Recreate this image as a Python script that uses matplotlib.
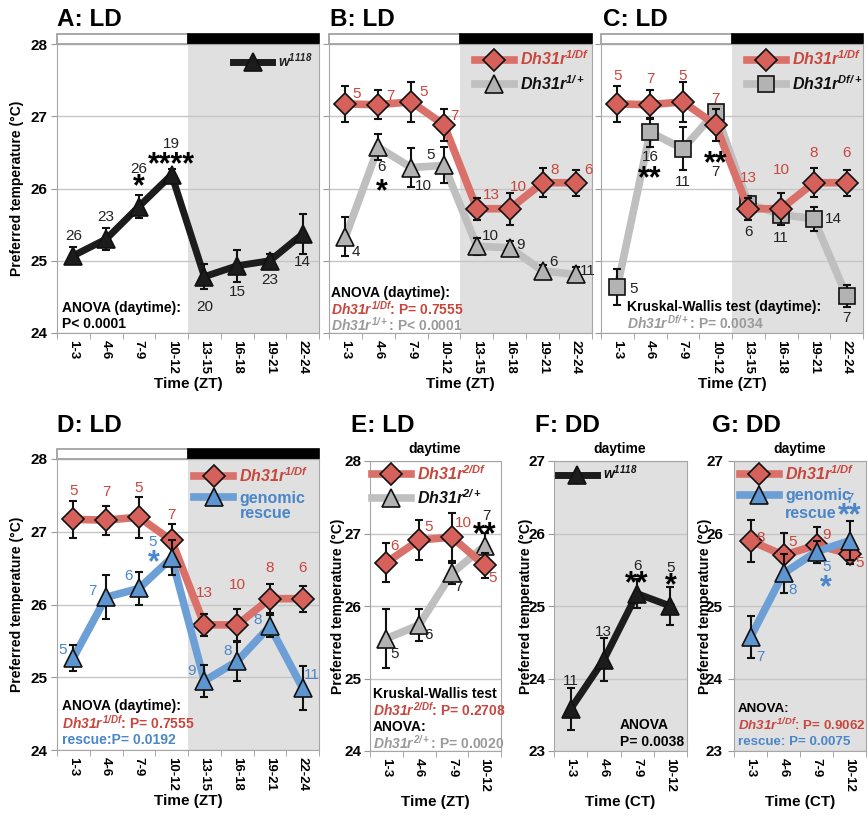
import numpy as np
import matplotlib.pyplot as plt
from matplotlib.lines import Line2D
from matplotlib.patches import Rectangle

plt.rcParams['font.family'] = ['Liberation Sans', 'DejaVu Sans']
plt.rcParams['mathtext.fontset'] = 'custom'
plt.rcParams['mathtext.rm'] = 'Liberation Sans:italic:bold'
plt.rcParams['mathtext.it'] = 'Liberation Sans:italic:bold'
plt.rcParams['mathtext.bf'] = 'Liberation Sans:italic:bold'

# ---- data ----
zt_bins = ['1-3', '4-6', '7-9', '10-12', '13-15', '16-18', '19-21', '22-24']
day_bins = ['1-3', '4-6', '7-9', '10-12']

# A: w1118 LD
w_ld = [25.07, 25.3, 25.75, 26.19, 24.78, 24.93, 25.0, 25.37]
w_ld_err = [0.12, 0.15, 0.16, 0.08, 0.17, 0.22, 0.1, 0.28]
w_ld_n = [26, 23, 26, 19, 20, 15, 23, 14]

# Dh31r1/Df LD (B, C, D)
r1df = [27.17, 27.16, 27.2, 26.88, 25.72, 25.72, 26.08, 26.08]
r1df_err = [0.25, 0.2, 0.28, 0.22, 0.15, 0.22, 0.2, 0.18]
r1df_n = [5, 7, 5, 7, 13, 10, 8, 6]

# B: Dh31r1/+
r1p = [25.33, 26.57, 26.29, 26.32, 25.2, 25.18, 24.86, 24.81]
r1p_err = [0.27, 0.18, 0.27, 0.25, 0.12, 0.1, 0.08, 0.1]
r1p_n = [4, 6, 10, 5, 10, 9, 6, 11]

# C: Dh31rDf/+
dfp = [24.64, 26.78, 26.55, 27.06, 25.79, 25.64, 25.58, 24.51]
dfp_err = [0.25, 0.2, 0.3, 0.1, 0.1, 0.1, 0.17, 0.15]
dfp_n = [5, 16, 11, 7, 6, 11, 14, 7]

# D: genomic rescue LD
resc = [25.27, 26.1, 26.22, 26.64, 24.95, 25.22, 25.7, 24.85]
resc_err = [0.18, 0.3, 0.23, 0.24, 0.22, 0.27, 0.15, 0.3]
resc_n = [5, 7, 6, 5, 9, 8, 8, 11]

# E: Dh31r2/Df and Dh31r2/+ (daytime)
r2df = [26.6, 26.91, 26.95, 26.56]
r2df_err = [0.27, 0.27, 0.33, 0.17]
r2df_n = [6, 5, 10, 5]
r2p = [25.55, 25.74, 26.45, 26.83]
r2p_err = [0.41, 0.22, 0.15, 0.18]
r2p_n = [5, 6, 7, 7]

# F: w1118 DD
w_dd = [23.58, 24.26, 25.17, 25.0]
w_dd_err = [0.29, 0.3, 0.2, 0.26]
w_dd_n = [11, 13, 6, 5]

# G: DD
r1df_dd = [25.9, 25.7, 25.84, 25.72]
r1df_dd_err = [0.29, 0.31, 0.25, 0.14]
r1df_dd_n = [8, 5, 9, 5]
resc_dd = [24.57, 25.45, 25.75, 25.9]
resc_dd_err = [0.29, 0.27, 0.15, 0.27]
resc_dd_n = [7, 8, 5, 7]

# ---- colours ----
RED_L, RED_F, RED_T = '#d9716a', '#d6615a', '#c9463d'
GRY_L, GRY_F, GRY_T = '#bfbfbf', '#b3b3b3', '#9a9a9a'
BLU_L, BLU_F, BLU_T = '#6b9fd5', '#5d95d0', '#4a86c8'
BLK = '#1c1c1c'
NIGHT = '#e0e0e0'

W, H = 868, 816
fig = plt.figure(figsize=(W / 100, H / 100), dpi=100)


def px_axes(l, t, r, b):
    return fig.add_axes([l / W, 1 - b / H, (r - l) / W, (b - t) / H])


def ftext(x, y, s, **kw):
    kw.setdefault('va', 'center')
    kw.setdefault('fontweight', 'bold')
    fig.text(x / W, 1 - y / H, s, **kw)


def setup(ax, cats, ylim, night=None, allgray=False, ylabels=True, ypad=3,
          xlabel='Time (ZT)', ylab_x=None):
    n = len(cats)
    ax.set_xlim(-0.5, n - 0.5)
    ax.set_ylim(*ylim)
    ax.set_xticks(np.arange(n))
    ax.set_xticklabels(cats, rotation=-90, fontsize=9.5, fontweight='bold')
    ax.tick_params(axis='x', which='major', length=0, pad=5)
    ax.set_xticks(np.arange(n + 1) - 0.5, minor=True)
    ax.tick_params(axis='x', which='minor', length=4, color='#999999')
    ax.set_yticks(range(ylim[0], ylim[1] + 1))
    ax.tick_params(axis='y', length=4, color='#999999', pad=ypad,
                   labelsize=11)
    if ylabels:
        for t in ax.get_yticklabels():
            t.set_fontweight('bold')
    else:
        ax.set_yticklabels([])
    ax.yaxis.grid(True, color='#c6c6c6', lw=1)
    ax.set_axisbelow(True)
    for s in ax.spines.values():
        s.set_color('#a6a6a6')
    if allgray:
        ax.set_facecolor(NIGHT)
    if night is not None:
        ax.axvspan(night, n - 0.5, color=NIGHT, zorder=0, lw=0)
    ax.set_xlabel(xlabel, fontsize=11, fontweight='bold', labelpad=2)
    if ylab_x is not None:
        ax.set_ylabel('Preferred temperature (°C)', fontsize=10,
                      fontweight='bold')
        ax.yaxis.set_label_coords(ylab_x, 0.5)


def ld_bar(ax, n_light=4, n=8):
    tr = ax.get_xaxis_transform()
    ax.add_patch(Rectangle((-0.5, 1.0), n_light, 0.034, transform=tr,
                           facecolor='white', edgecolor='#9a9a9a', lw=1.2,
                           clip_on=False))
    ax.add_patch(Rectangle((n_light - 0.5, 1.0), n - n_light, 0.034,
                           transform=tr, facecolor='black', edgecolor='black',
                           lw=1.2, clip_on=False))


def series(ax, y, err, lc, fc, marker, ms, z, lw=5.5):
    x = np.arange(len(y))
    ax.plot(x, y, color=lc, lw=lw, zorder=z, solid_joinstyle='round')
    ax.errorbar(x, y, yerr=err, fmt='none', ecolor='#111111', elinewidth=1.5,
                capsize=3.2, capthick=1.5, zorder=z + 0.1)
    ax.plot(x, y, ls='none', marker=marker, ms=ms, mfc=fc, mec='#111111',
            mew=1.2, zorder=z + 0.2)
    return Line2D([], [], color=lc, lw=lw, marker=marker, ms=ms, mfc=fc,
                  mec='#111111', mew=1.2)


def nlabels(ax, y, ns, offs, color, fs=11):
    for i, (v, n, (dx, dy)) in enumerate(zip(y, ns, offs)):
        ax.annotate(str(n), (i, v), xytext=(dx, dy), textcoords='offset pixels',
                    ha='center', va='center', color=color, fontsize=fs,
                    zorder=10)


def stars(ax, i, v, s, dx, dy, color='black', fs=22):
    ax.annotate(s, (i, v), xytext=(dx, dy - 6), textcoords='offset pixels',
                ha='center', va='center', color=color, fontsize=fs,
                fontweight='bold', zorder=10)


def legend(ax, handles, labels, x0, ytop, colors, fs=11.5, spacing=0.35,
           upright=()):
    hl = 39 / (fs * 1.389)
    leg = ax.legend(handles, labels, loc='upper left', bbox_to_anchor=(x0, ytop),
                    frameon=False, handlelength=hl, handletextpad=0.4,
                    borderpad=0, borderaxespad=0, labelspacing=spacing,
                    prop={'size': fs, 'weight': 'bold', 'style': 'italic'})
    for t, c in zip(leg.get_texts(), colors):
        t.set_color(c)
    for k in upright:
        leg.get_texts()[k].set_fontstyle('normal')
    leg.set_zorder(20)
    return leg


# ---------- A ----------
axA = px_axes(57, 44, 319, 333)
setup(axA, zt_bins, (24, 28), night=3.5, ylab_x=-0.125)
ld_bar(axA)
h = series(axA, w_ld, w_ld_err, BLK, BLK, '^', 13, 3, lw=5)
nlabels(axA, w_ld, w_ld_n, [(0, 20), (0, 22), (0, 38), (0, 31),
                            (0, -30), (0, -26), (0, -19), (0, -28)], '#222222')
stars(axA, 2, w_ld[2], '*', 0, 25)
stars(axA, 3, w_ld[3], '****', 0, 16)
legend(axA, [h], [r'w$^{1118}$'], 0.672, 0.975, ['#222222'], fs=10)
ftext(57, 19, 'A: LD', fontsize=17.5)
ftext(62, 308, 'ANOVA (daytime):', fontsize=10, ha='left')
ftext(62, 324, 'P< 0.0001', fontsize=10, ha='left')

# ---------- B ----------
axB = px_axes(329, 44, 592, 333)
setup(axB, zt_bins, (24, 28), night=3.5, ylabels=False)
ld_bar(axB)
hg = series(axB, r1p, r1p_err, GRY_L, GRY_F, '^', 13, 3)
hr = series(axB, r1df, r1df_err, RED_L, RED_F, 'D', 11.5, 4)
nlabels(axB, r1df, r1df_n, [(11, 10), (12, 9), (12, 10), (10, 9),
                            (14, 14), (9, 22), (12, 13), (13, 13)], RED_T)
nlabels(axB, r1p, r1p_n, [(10, -15), (3, -20), (12, -18), (-13, 10),
                          (13, 10), (11, 3), (11, 9), (12, 3)], '#222222')
stars(axB, 1, r1p[1], '*', 3, -39)
legend(axB, [hr, hg], [r'Dh31r$^{1/Df}$', r'Dh31r$^{1/+}$'], 0.555, 0.98,
       [RED_T, '#111111'])
ftext(330, 19, 'B: LD', fontsize=17.5)
ftext(331, 293, 'ANOVA (daytime):', fontsize=10, ha='left')
ftext(331, 309, r'$Dh31r^{1/Df}$: P= 0.7555', fontsize=10, ha='left',
      color=RED_T)
ftext(331, 325, r'$Dh31r^{1/+}$: P< 0.0001', fontsize=10, ha='left',
      color=GRY_T)

# ---------- C ----------
axC = px_axes(601, 44, 863, 333)
setup(axC, zt_bins, (24, 28), night=3.5, ylabels=False)
ld_bar(axC)
hg = series(axC, dfp, dfp_err, GRY_L, GRY_F, 's', 11.5, 3)
hr = series(axC, r1df, r1df_err, RED_L, RED_F, 'D', 11.5, 4)
nlabels(axC, r1df, r1df_n, [(0, 28), (0, 26), (0, 26), (0, 26),
                            (0, 31), (0, 39), (0, 30), (0, 30)], RED_T)
nlabels(axC, dfp, dfp_n, [(16, -2), (0, -25), (0, -33), (0, -60),
                          (0, -28), (0, -23), (20, 0), (0, -22)], '#222222')
stars(axC, 1, dfp[1], '**', 0, -41)
stars(axC, 3, dfp[3], '**', 0, -46)
legend(axC, [hr, hg], [r'Dh31r$^{1/Df}$', r'Dh31r$^{Df/+}$'], 0.557, 0.98,
       [RED_T, '#111111'])
ftext(603, 19, 'C: LD', fontsize=17.5)
ftext(627, 307, 'Kruskal-Wallis test (daytime):', fontsize=10, ha='left')
ftext(627, 323, r'$Dh31r^{Df/+}$: P= 0.0034', fontsize=10, ha='left',
      color=GRY_T)

# ---------- D ----------
axD = px_axes(57, 459, 319, 750)
setup(axD, zt_bins, (24, 28), night=3.5, ylab_x=-0.125)
ld_bar(axD)
hr = series(axD, r1df, r1df_err, RED_L, RED_F, 'D', 11.5, 3)
hb = series(axD, resc, resc_err, BLU_L, BLU_F, '^', 13, 4)
nlabels(axD, r1df, r1df_n, [(0, 28), (0, 28), (0, 29), (0, 25),
                            (0, 32), (0, 40), (0, 31), (0, 31)], RED_T)
nlabels(axD, resc, resc_n, [(-11, 8), (-14, 6), (-10, 12), (-19, 16),
                            (-13, 10), (-10, 10), (-12, 6), (9, 13)], BLU_T)
stars(axD, 3, resc[3], '*', -18, 1, color=BLU_T)
legend(axD, [hr, hb], [r'Dh31r$^{1/Df}$', 'genomic'], 0.523, 0.975,
       [RED_T, BLU_T], upright=(1,))
ftext(240, 513, 'rescue', fontsize=11.5, ha='left', color=BLU_T)
ftext(57, 425, 'D: LD', fontsize=17.5)
ftext(62, 706, 'ANOVA (daytime):', fontsize=10, ha='left')
ftext(62, 723, r'$Dh31r^{1/Df}$: P= 0.7555', fontsize=10, ha='left',
      color=RED_T)
ftext(62, 740, 'rescue:P= 0.0192', fontsize=10, ha='left', color=BLU_T)

# ---------- E ----------
axE = px_axes(370, 461, 501, 751)
setup(axE, day_bins, (24, 28), ypad=2, ylab_x=-0.19)
hg = series(axE, r2p, r2p_err, GRY_L, GRY_F, '^', 13, 3)
hr = series(axE, r2df, r2df_err, RED_L, RED_F, 'D', 11.5, 4)
nlabels(axE, r2df, r2df_n, [(8, 17), (9, 13), (11, 14), (8, -13)], RED_T)
nlabels(axE, r2p, r2p_n, [(8, -15), (9, -10), (7, -14), (2, 30)], '#222222')
stars(axE, 3, r2p[3], '**', 0, 17)
legend(axE, [hr, hg], [r'Dh31r$^{2/Df}$', r'Dh31r$^{2/+}$'], 0.015, 0.99,
       [RED_T, '#111111'])
ftext(351, 425, 'E: LD', fontsize=17.5)
ftext(435, 449, 'daytime', fontsize=10, ha='center')
ftext(373, 694, 'Kruskal-Wallis test', fontsize=10, ha='left')
ftext(373, 710, r'$Dh31r^{2/Df}$: P= 0.2708', fontsize=10, ha='left',
      color=RED_T)
ftext(373, 727, 'ANOVA:', fontsize=10, ha='left')
ftext(373, 743, r'$Dh31r^{2/+}$: P= 0.0020', fontsize=10, ha='left',
      color=GRY_T)

# ---------- F ----------
axF = px_axes(554, 461, 687, 751)
setup(axF, day_bins, (23, 27), allgray=True, ypad=2, xlabel='Time (CT)',
      ylab_x=-0.16)
h = series(axF, w_dd, w_dd_err, BLK, BLK, '^', 13, 3, lw=5)
nlabels(axF, w_dd, w_dd_n, [(0, 28), (0, 28), (0, 28), (0, 38)], '#222222')
stars(axF, 2, w_dd[2], '**', 0, 15)
stars(axF, 3, w_dd[3], '*', 0, 26)
legend(axF, [h], [r'w$^{1118}$'], 0.03, 0.99, ['#111111'], fs=10)
ftext(535, 425, 'F: DD', fontsize=17.5)
ftext(620, 449, 'daytime', fontsize=10, ha='center')
ftext(620, 725, 'ANOVA', fontsize=10, ha='left')
ftext(620, 742, 'P= 0.0038', fontsize=10, ha='left')

# ---------- G ----------
axG = px_axes(734, 461, 866, 751)
setup(axG, day_bins, (23, 27), allgray=True, ypad=4, xlabel='Time (CT)',
      ylab_x=-0.167)
hr = series(axG, r1df_dd, r1df_dd_err, RED_L, RED_F, 'D', 11.5, 3)
hb = series(axG, resc_dd, resc_dd_err, BLU_L, BLU_F, '^', 13, 4)
nlabels(axG, r1df_dd, r1df_dd_n, [(10, 3), (9, 13), (10, 10), (10, -9)], RED_T)
nlabels(axG, resc_dd, resc_dd_n, [(10, -20), (9, -17), (10, -15), (0, 42)],
        BLU_T)
stars(axG, 2, resc_dd[2], '*', 9, -31, color=BLU_T)
stars(axG, 3, resc_dd[3], '**', 0, 30, color=BLU_T)
legend(axG, [hr, hb], [r'Dh31r$^{1/Df}$', 'genomic'], 0.045, 0.99,
       [RED_T, BLU_T], upright=(1,))
ftext(785, 514, 'rescue', fontsize=11.5, ha='left', color=BLU_T)
ftext(712, 425, 'G: DD', fontsize=17.5)
ftext(800, 449, 'daytime', fontsize=10, ha='center')
ftext(738, 709, 'ANOVA:', fontsize=9.6, ha='left')
ftext(738, 725, r'$Dh31r^{1/Df}$: P= 0.9062', fontsize=9.6, ha='left',
      color=RED_T)
ftext(738, 742, 'rescue: P= 0.0075', fontsize=9.6, ha='left', color=BLU_T)

fig.savefig('out.png', dpi=100)
